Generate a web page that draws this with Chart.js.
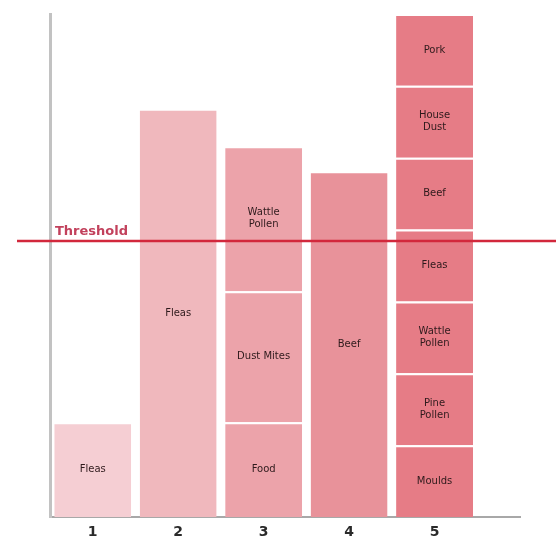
<!DOCTYPE html>
<html>
<head>
<meta charset="utf-8">
<script src="https://cdn.jsdelivr.net/npm/chart.js@4/dist/chart.umd.min.js"></script>
<style>
  html, body { margin: 0; padding: 0; background: #fff; }
  #wrap { width: 556px; height: 538px; }
</style>
</head>
<body>
<div id="wrap"><canvas id="allergyCanvas"></canvas></div>
<script>
// x categories
const groups = [1, 2, 3, 4, 5];
// stacked segments of each bar, bottom to top
const allergens = [
    ["Fleas"],
    ["Fleas"],
    ["Food", "Dust Mites", "Wattle\nPollen"],
    ["Beef"],
    ["Moulds", "Pine\nPollen", "Wattle\nPollen", "Fleas", "Beef", "House\nDust", "Pork"]
];
const levels = [
    [1.32],
    [5.68],
    [1.32, 1.82, 2.02],
    [4.81],
    [1, 1, 1, 1, 1, 1, 1]
];
const threshold = 3.84;
const barColors = ["#f5ced3", "#f0b8bd", "#eca3aa", "#e8929a", "#e67c86"];

// one dataset per stack layer
const maxLayers = Math.max(...levels.map(l => l.length));
const datasets = [];
for (let k = 0; k < maxLayers; k++) {
    const pts = [];
    groups.forEach((g, i) => {
        if (levels[i][k] != null) {
            pts.push({ x: g, y: levels[i][k], name: allergens[i][k], color: barColors[i] });
        }
    });
    datasets.push({
        data: pts,
        backgroundColor: pts.map(p => p.color),
        borderColor: "rgba(255,255,255,0.55)",
        borderWidth: { top: 2, left: 0, right: 0, bottom: 0 },
        barPercentage: 0.9,
        categoryPercentage: 1.0
    });
}

const segmentLabels = {
    id: "segmentLabels",
    afterDatasetsDraw(chart) {
        const ctx = chart.ctx;
        ctx.save();
        ctx.fillStyle = "#2e1a1c";
        ctx.font = "10px 'DejaVu Sans'";
        ctx.textAlign = "center";
        ctx.textBaseline = "middle";
        chart.data.datasets.forEach((ds, di) => {
            chart.getDatasetMeta(di).data.forEach((el, j) => {
                const lines = ds.data[j].name.split("\n");
                const cy = (el.y + el.base) / 2;
                const lh = 12;
                lines.forEach((t, n) => {
                    ctx.fillText(t, el.x, cy + (n - (lines.length - 1) / 2) * lh);
                });
            });
        });
        ctx.restore();
    }
};

const thresholdLine = {
    id: "thresholdLine",
    afterDatasetsDraw(chart) {
        const ctx = chart.ctx;
        const y = chart.scales.y.getPixelForValue(threshold);
        ctx.save();
        ctx.strokeStyle = "#d2283c";
        ctx.lineWidth = 2.5;
        ctx.beginPath();
        ctx.moveTo(17, y);
        ctx.lineTo(chart.width, y);
        ctx.stroke();
        ctx.fillStyle = "#c2415c";
        ctx.font = "bold 13px 'DejaVu Sans'";
        ctx.textAlign = "left";
        ctx.textBaseline = "alphabetic";
        ctx.fillText("Threshold", 55, y - 6);
        ctx.restore();
    }
};

new Chart(document.getElementById("allergyCanvas"), {
    type: "bar",
    data: { datasets: datasets },
    plugins: [segmentLabels, thresholdLine],
    options: {
        responsive: true,
        maintainAspectRatio: false,
        animation: false,
        layout: { padding: { left: 50, right: 36, top: 14, bottom: -9 } },
        plugins: { legend: { display: false }, tooltip: { enabled: false } },
        scales: {
            x: {
                type: "linear",
                stacked: true,
                offset: false,
                min: 0.5,
                max: 6.0,
                afterBuildTicks: axis => { axis.ticks = groups.map(v => ({ value: v })); },
                grid: { display: false, drawTicks: false, offset: false },
                border: { color: "#a8a8a8", width: 2 },
                ticks: {
                    padding: 8,
                    color: "#2a2a2a",
                    font: { family: "DejaVu Sans", size: 14, weight: "bold", lineHeight: 1 }
                }
            },
            y: {
                stacked: true,
                min: 0,
                max: 7,
                grid: { display: false, drawTicks: false },
                border: { color: "#c2c2c2", width: 3 },
                ticks: { display: false }
            }
        }
    }
});
</script>
</body>
</html>
